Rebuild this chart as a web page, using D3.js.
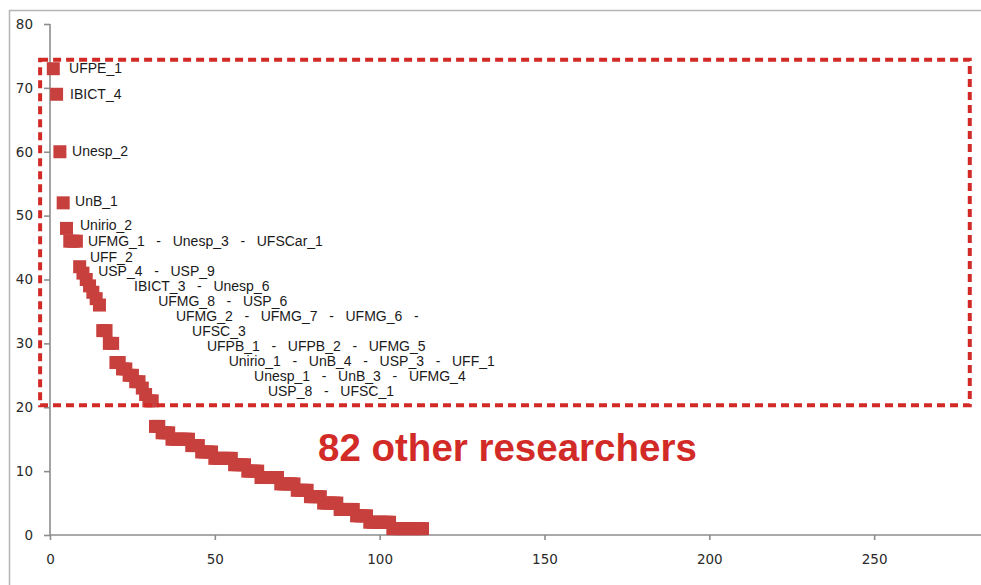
<!DOCTYPE html>
<html>
<head>
<meta charset="utf-8">
<script src="https://cdn.jsdelivr.net/npm/d3@7"></script>
<style>
  html, body { margin: 0; padding: 0; background: #fff; }
  svg { display: block; }
</style>
</head>
<body>
<svg id="chart" width="981" height="585"></svg>
<script>
// Researchers ranked by score; the first 31 are named, the remaining 82 are not.
const rankedNames = [
  "UFPE_1", "IBICT_4", "Unesp_2", "UnB_1", "Unirio_2",
  "UFMG_1", "Unesp_3", "UFSCar_1", "UFF_2", "USP_4", "USP_9",
  "IBICT_3", "Unesp_6", "UFMG_8", "USP_6",
  "UFMG_2", "UFMG_7", "UFMG_6", "UFSC_3",
  "UFPB_1", "UFPB_2", "UFMG_5",
  "Unirio_1", "UnB_4", "USP_3", "UFF_1",
  "Unesp_1", "UnB_3", "UFMG_4",
  "USP_8", "UFSC_1"
];

// Score of every researcher, in rank order (rank 1 first)
const scores = [
  73, 69, 60, 52, 48, 46, 46, 46, 42, 41, 40, 39, 38, 37, 36,
  32, 32, 30, 30, 27, 27, 26, 26, 25, 25, 24, 24, 23, 22, 21, 21,
  17, 17, 16, 16, 16, 15, 15, 15, 15, 15, 15, 14, 14, 14,
  13, 13, 13, 13, 12, 12, 12, 12, 12, 12, 11, 11, 11, 11,
  10, 10, 10, 10, 9, 9, 9, 9, 9, 9, 8, 8, 8, 8, 8,
  7, 7, 7, 7, 6, 6, 6, 6, 5, 5, 5, 5, 5, 4, 4, 4, 4, 4,
  3, 3, 3, 3, 2, 2, 2, 2, 2, 2, 2,
  1, 1, 1, 1, 1, 1, 1, 1, 1, 1
];

// Names shown together on one label line
const labelGroups = [
  ["UFPE_1"], ["IBICT_4"], ["Unesp_2"], ["UnB_1"], ["Unirio_2"],
  ["UFMG_1", "Unesp_3", "UFSCar_1"], ["UFF_2"], ["USP_4", "USP_9"],
  ["IBICT_3", "Unesp_6"], ["UFMG_8", "USP_6"],
  ["UFMG_2", "UFMG_7", "UFMG_6", ""], ["UFSC_3"],
  ["UFPB_1", "UFPB_2", "UFMG_5"],
  ["Unirio_1", "UnB_4", "USP_3", "UFF_1"],
  ["Unesp_1", "UnB_3", "UFMG_4"],
  ["USP_8", "UFSC_1"]
];

// Where each label line sits, in axis units [rank, score]
const labelAnchors = [
  [5.8, 73.1], [6.1, 69.0], [6.7, 60.1], [7.6, 52.3], [9.1, 48.5],
  [11.5, 46.0], [12.1, 43.5], [14.6, 41.3], [25.5, 39.0], [32.8, 36.6],
  [38.2, 34.3], [43.1, 31.9], [47.6, 29.6], [54.2, 27.2], [61.9, 24.9],
  [66.1, 22.5]
];

const xTicks = [0, 50, 100, 150, 200, 250];
const yTicks = [0, 10, 20, 30, 40, 50, 60, 70, 80];

// Highlighted band: ranks / scores covered by the dashed box
const boxRanks = [-3.0, 279.0];
const boxScores = [20.3, 74.4];
const boxCaption = "82 other researchers";

const svg = d3.select("#chart");

const x = d3.scaleLinear().domain([0, 300]).range([50, 1039]);
const y = d3.scaleLinear().domain([0, 80]).range([535, 24]);

// outer frame
svg.append("rect")
  .attr("x", 9.5).attr("y", 10.5)
  .attr("width", 1100).attr("height", 700)
  .attr("fill", "none")
  .attr("stroke", "#b5b5b5")
  .attr("stroke-width", 1.5);

const axisColor = "#8c8c8c";
const tickFont = "'DejaVu Sans', sans-serif";

// y axis
const yAxis = svg.append("g")
  .attr("transform", `translate(${x(0)},0)`)
  .call(d3.axisLeft(y).tickValues(yTicks).tickSize(6).tickPadding(11));
// x axis
const xAxis = svg.append("g")
  .attr("transform", `translate(0,${y(0)})`)
  .call(d3.axisBottom(x).tickValues(xTicks).tickSize(5).tickPadding(14));

[yAxis, xAxis].forEach(g => {
  g.select(".domain").attr("stroke", axisColor).attr("stroke-width", 1.6);
  g.selectAll(".tick line").attr("stroke", axisColor).attr("stroke-width", 1.6);
  g.selectAll(".tick text")
    .attr("fill", "#2a2a2a")
    .style("font-family", tickFont)
    .style("font-size", "13.5px");
});
yAxis.select(".domain").attr("d", `M0,${y(80)}V${y(0)}`);
xAxis.select(".domain").attr("d", `M${x(0)},0H${x(300)}`);

// researcher markers
const points = scores.map((s, i) => ({ rank: i + 1, score: s }));
const size = 13;
svg.append("g")
  .selectAll("rect")
  .data(points)
  .join("rect")
  .attr("x", d => x(d.rank) - size / 2)
  .attr("y", d => y(d.score) - size / 2)
  .attr("width", size)
  .attr("height", size)
  .attr("fill", "#c8403d");

// name labels
svg.append("g")
  .selectAll("text")
  .data(labelGroups.map((g, i) => ({ text: g.join("   -   ").trimEnd(), at: labelAnchors[i] })))
  .join("text")
  .attr("x", d => x(d.at[0]))
  .attr("y", d => y(d.at[1]))
  .attr("dy", "0.35em")
  .style("white-space", "pre")
  .style("font-family", "'Liberation Sans', Arial, sans-serif")
  .style("font-size", "14px")
  .attr("fill", "#1a1a1a")
  .text(d => d.text);

// dashed box around the named researchers
const boxColor = "#d22b27";
svg.append("rect")
  .attr("x", x(boxRanks[0]))
  .attr("y", y(boxScores[1]))
  .attr("width", x(boxRanks[1]) - x(boxRanks[0]))
  .attr("height", y(boxScores[0]) - y(boxScores[1]))
  .attr("fill", "none")
  .attr("stroke", boxColor)
  .attr("stroke-width", 4)
  .attr("stroke-dasharray", "8,5");

// caption for the unnamed researchers
svg.append("text")
  .attr("x", 318)
  .attr("y", 448)
  .attr("dy", "0.35em")
  .style("font-family", "'Liberation Sans', Arial, sans-serif")
  .style("font-weight", "bold")
  .style("font-size", "38.5px")
  .attr("fill", boxColor)
  .text(boxCaption);
</script>
</body>
</html>
